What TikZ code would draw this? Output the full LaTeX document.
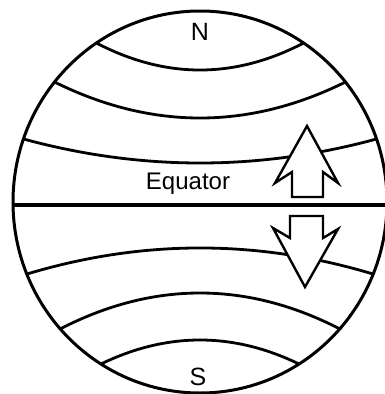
\documentclass[tikz,border=0pt]{standalone}
\usepackage{fontspec}
\setmainfont{Liberation Sans}
\tikzset{
  globe/.style={line width=3pt},
  parallel/.style={line width=2.8pt, line cap=round},
  equatorline/.style={line width=3.4pt},
  windarrow/.style={line width=2.4pt, line join=miter, fill=white, draw=black},
  polelabel/.style={font=\fontsize{25}{28}\selectfont, inner sep=0pt},
  eqlabel/.style={font=\fontsize{24}{27}\selectfont, inner sep=0pt}
}

\begin{document}
\begin{tikzpicture}[x=1pt,y=-1pt]
\useasboundingbox (0,0) rectangle (385,394);

% --- Globe outline ---
\draw[globe] (200,202) ellipse [x radius=187, y radius=191];

% --- Northern parallels ---
\draw[parallel] (96.4,43) .. controls (165.5,79) and (234.5,79) .. (303.6,43);
\draw[parallel] (54.5,82) .. controls (151.5,130) and (248.5,130) .. (345.5,82);
\draw[parallel] (23.5,139) .. controls (141.2,171) and (258.8,171) .. (376.5,139);

% --- Equator ---
\draw[equatorline] (13,205) -- (387,205);

% --- Southern parallels ---
\draw[parallel] (27,274) .. controls (142.3,239.3) and (257.7,239.3) .. (373,274);
\draw[parallel] (60,329) .. controls (153.3,281) and (246.7,281) .. (340,329);
\draw[parallel] (101,364) .. controls (167,332) and (233,332) .. (299,364);

% --- Arrows ---
\draw[windarrow] (292,197) -- (292,172) -- (275,183) -- (307,126)
  -- (338,183) -- (323,172) -- (323,197) -- cycle;
\draw[windarrow] (290,216) -- (290,238) -- (273,228) -- (305,287)
  -- (338,229) -- (323,238) -- (323,216) -- cycle;

% --- Labels ---
\node[polelabel] (north) at (200,32) {N};
\node[polelabel] (south) at (198,377) {S};
\node[eqlabel] (equator) at (188,184) {Equator};

\end{tikzpicture}
\end{document}
